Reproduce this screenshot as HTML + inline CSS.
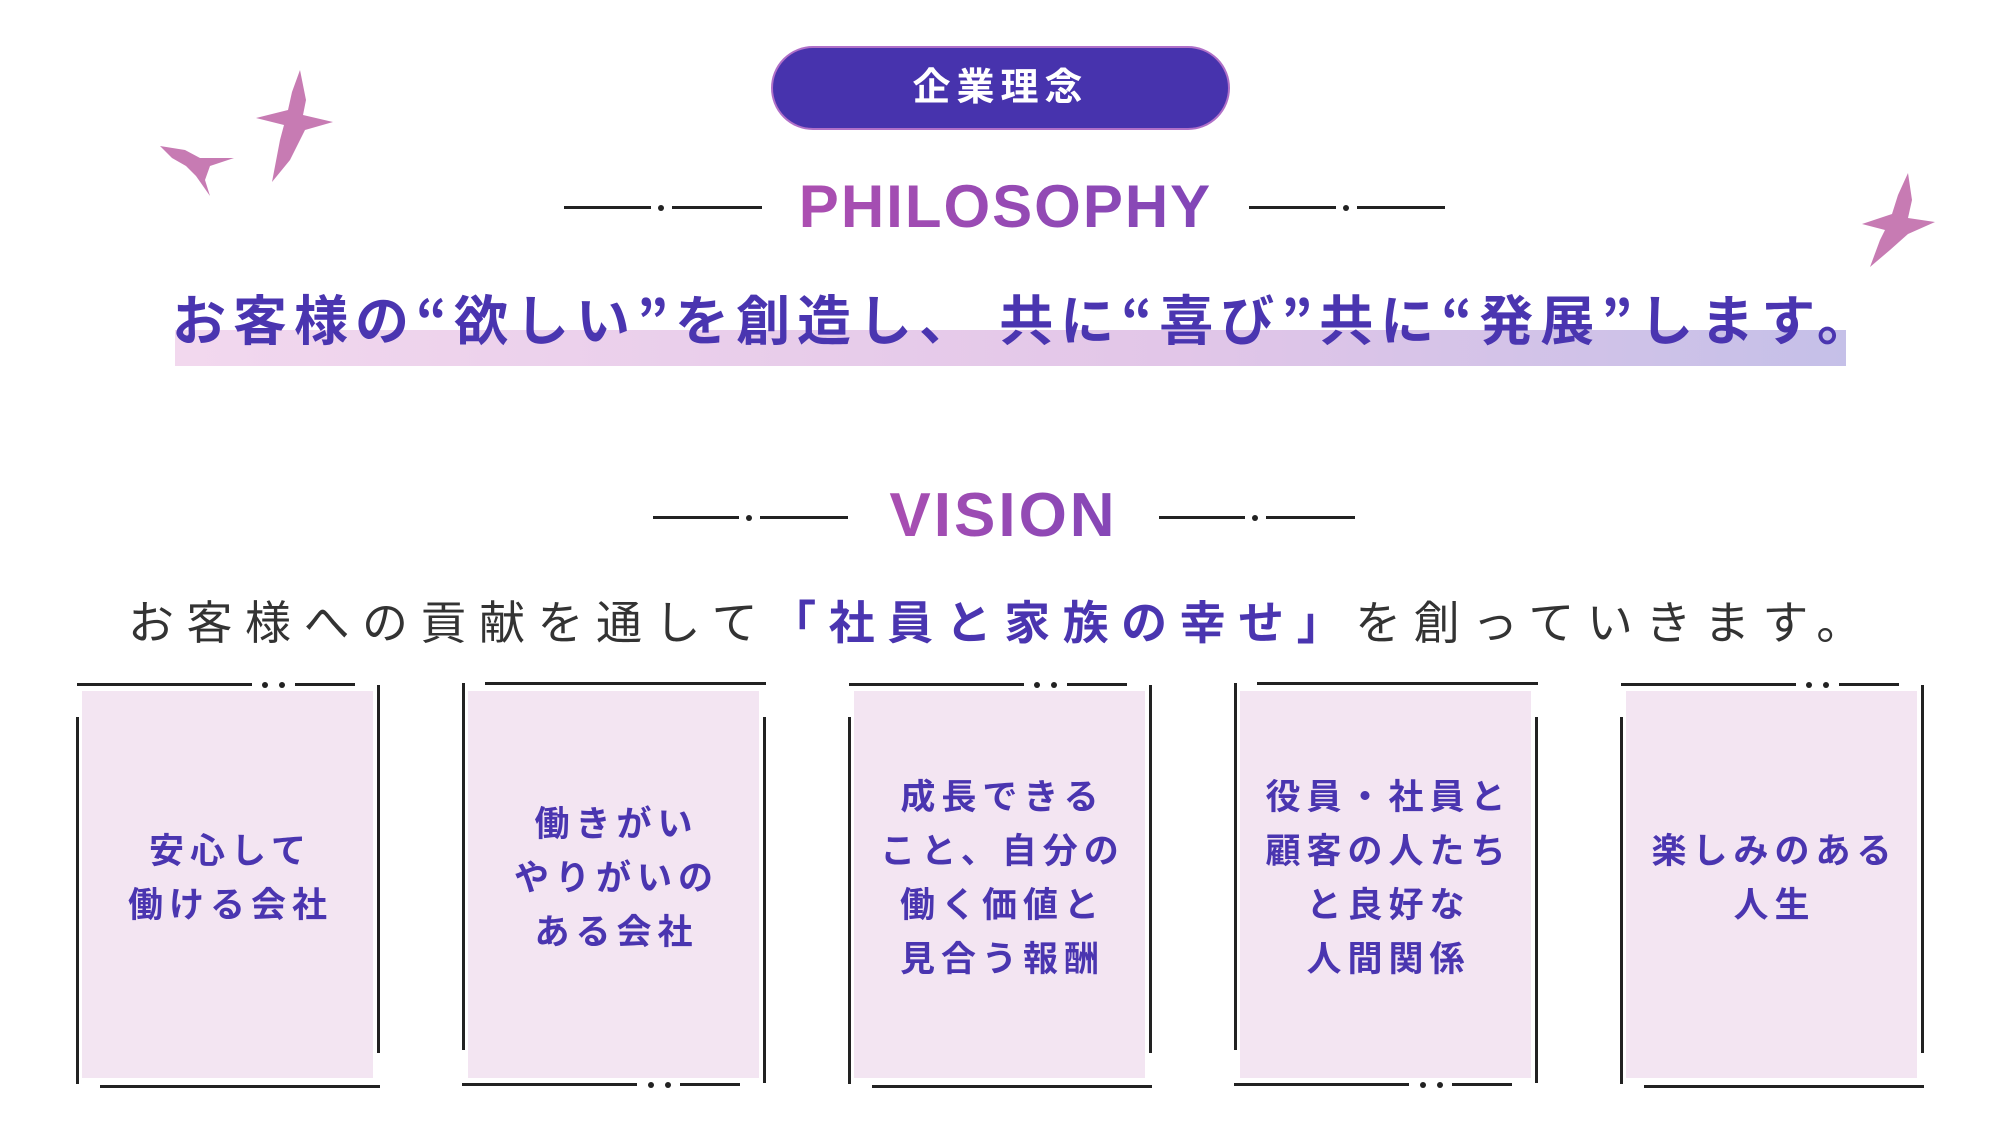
<!DOCTYPE html>
<html><head><meta charset="utf-8"><style>
html,body{margin:0;padding:0;background:#fff;}
body{width:2000px;height:1125px;position:relative;overflow:hidden;font-family:"Liberation Sans","Noto Sans CJK JP",sans-serif;}
.a{position:absolute;}
.ln{position:absolute;background:#222;}
.dot{position:absolute;width:6px;height:6px;border-radius:50%;background:#222;}
.fill{position:absolute;background:#f3e5f2;width:291px;height:387px;top:691px;}
.bt{position:absolute;width:291px;text-align:center;color:#4a35b0;font-weight:bold;font-size:35px;letter-spacing:6px;line-height:54px;top:685px;height:387px;display:flex;align-items:center;justify-content:center;}
.bt div{padding-left:6px;}
</style></head><body>

<div class="a" style="left:771px;top:46px;width:455px;height:80px;border-radius:42px;background:#4733ad;border:2px solid #b070c8;color:#fff;font-size:38px;font-weight:bold;letter-spacing:6px;text-align:center;line-height:80px;">企業理念</div>

<div class="ln" style="left:564px;top:206px;width:87px;height:3px"></div>
<div class="dot" style="left:658px;top:205px"></div>
<div class="ln" style="left:672px;top:206px;width:90px;height:3px"></div>
<div class="a" style="left:762px;top:168px;width:487px;text-align:center;font-size:60px;font-weight:bold;letter-spacing:2px;line-height:78px;color:#9a4fb8;background:linear-gradient(90deg,#b050b0,#7d45b8);-webkit-background-clip:text;background-clip:text;-webkit-text-fill-color:transparent;">PHILOSOPHY</div>
<div class="ln" style="left:1249px;top:206px;width:87px;height:3px"></div>
<div class="dot" style="left:1343px;top:205px"></div>
<div class="ln" style="left:1357px;top:206px;width:88px;height:3px"></div>

<div class="a" style="left:175px;top:330px;width:1671px;height:36px;background:linear-gradient(90deg,#f2d8ee,#e2c6e8 60%,#c5c0e8);"></div>
<div class="a" style="left:172px;top:282px;width:1800px;font-family:'Noto Sans CJK JP',sans-serif;font-size:54px;font-weight:bold;color:#4a35b0;letter-spacing:7px;line-height:70px;white-space:nowrap;">お客様の“欲しい”を創造し、 共に“喜び”共に“発展”します。</div>

<div class="ln" style="left:653px;top:516px;width:86px;height:3px"></div>
<div class="dot" style="left:746px;top:515px"></div>
<div class="ln" style="left:760px;top:516px;width:88px;height:3px"></div>
<div class="a" style="left:848px;top:477px;width:311px;text-align:center;font-size:62px;font-weight:bold;letter-spacing:3px;line-height:78px;color:#9a4fb8;background:linear-gradient(90deg,#b050b0,#7d45b8);-webkit-background-clip:text;background-clip:text;-webkit-text-fill-color:transparent;">VISION</div>
<div class="ln" style="left:1159px;top:516px;width:86px;height:3px"></div>
<div class="dot" style="left:1252px;top:515px"></div>
<div class="ln" style="left:1266px;top:516px;width:89px;height:3px"></div>

<div class="a" style="left:128px;top:590px;width:1800px;font-size:46px;letter-spacing:12.5px;color:#333;line-height:66px;white-space:nowrap;">お客様への貢献を通して<span style="color:#4a35b0;font-weight:bold">「社員と家族の幸せ」</span>を創っていきます。</div>

<div id="boxes"></div>
<script>
var texts=[["安心して","働ける会社"],["働きがい","やりがいの","ある会社"],["成長できる","こと、自分の","働く価値と","見合う報酬"],["役員・社員と","顧客の人たち","と良好な","人間関係"],["楽しみのある","人生"]];
var h="";
for(var i=0;i<5;i++){
 var L=82+386*i;
 h+='<div class="fill" style="left:'+L+'px"></div>';
 h+='<div class="bt" style="left:'+L+'px"><div>'+texts[i].join("<br>")+'</div></div>';
 if(i%2==0){
  h+='<div class="ln" style="left:'+(L-5)+'px;top:683px;width:175px;height:3px"></div>';
  h+='<div class="dot" style="left:'+(L+180)+'px;top:682px"></div><div class="dot" style="left:'+(L+197)+'px;top:682px"></div>';
  h+='<div class="ln" style="left:'+(L+213)+'px;top:683px;width:60px;height:3px"></div>';
  h+='<div class="ln" style="left:'+(L-6)+'px;top:717px;width:3px;height:367px"></div>';
  h+='<div class="ln" style="left:'+(L+295)+'px;top:685px;width:3px;height:368px"></div>';
  h+='<div class="ln" style="left:'+(L+18)+'px;top:1085px;width:280px;height:3px"></div>';
 } else {
  h+='<div class="ln" style="left:'+(L+17)+'px;top:682px;width:281px;height:3px"></div>';
  h+='<div class="ln" style="left:'+(L-6)+'px;top:683px;width:3px;height:367px"></div>';
  h+='<div class="ln" style="left:'+(L+295)+'px;top:717px;width:3px;height:366px"></div>';
  h+='<div class="ln" style="left:'+(L-6)+'px;top:1083px;width:175px;height:3px"></div>';
  h+='<div class="dot" style="left:'+(L+180)+'px;top:1082px"></div><div class="dot" style="left:'+(L+197)+'px;top:1082px"></div>';
  h+='<div class="ln" style="left:'+(L+212)+'px;top:1083px;width:60px;height:3px"></div>';
 }
}
document.getElementById("boxes").innerHTML=h;
</script>

<svg class="a" style="left:0;top:0" width="2000" height="300">
<g fill="#c77bb3">
<path d="M300,70 L306,100 L303,115 L333,122 L305,130 L290,160 L272,182 L280,140 L284,125 L256,118 L288,110 L292,92 Z"/>
<path d="M160,146 L185,150 L200,158 L234,158 L210,166 L205,180 L210,196 L196,176 L186,166 L172,158 Z"/>
<path d="M1908,173 L1912,200 L1908,218 L1935,222 L1908,234 L1890,250 L1870,267 L1880,240 L1885,230 L1862,224 L1892,214 L1898,195 Z"/>
</g>
</svg>
</body></html>
